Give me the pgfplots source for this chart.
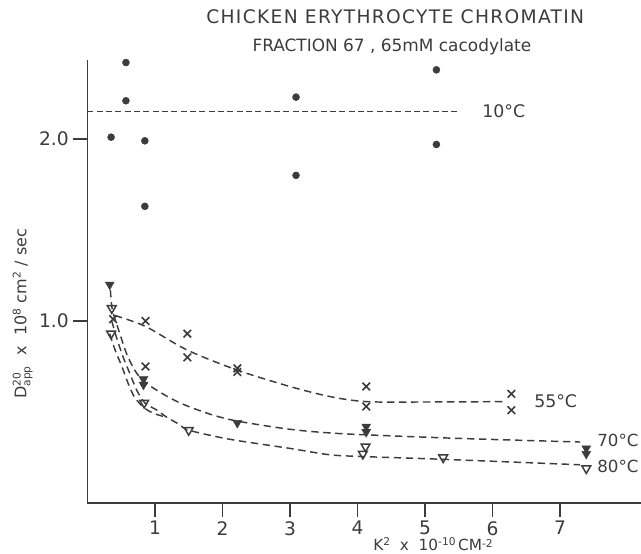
\documentclass[border=0pt]{standalone}
\usepackage{fontspec}
\setmainfont{DejaVu Sans}
\usepackage{amsmath}
\usepackage{pgfplots}
\pgfplotsset{compat=1.18}
\definecolor{ink}{HTML}{3c3c3c}
\begin{document}
\begin{tikzpicture}
\begin{axis}[
  scale only axis, width=415.1pt, height=332.25pt,
  xmin=0, xmax=8.2, ymin=0, ymax=2.434,
  axis lines=left, axis line style={-, ink, line width=1.1pt},
  xtick={1,...,7}, ytick={1,2}, yticklabels={1.0,2.0},
  tick align=outside, major tick length=10.5pt,
  tick style={ink, line width=1.1pt},
  ticklabel style={font=\fontsize{14}{16}\selectfont, text=ink},
  xticklabel style={inner sep=1pt, yshift=-2pt, text depth=0pt},
  /pgf/number format/assume math mode=true,
  clip=false,
  every axis plot/.append style={ink},
]
% 10 C
\addplot[only marks, mark=*, mark size=2.6pt, mark options={fill=ink, draw=ink}] coordinates {
 (0.35,2.01) (0.57,2.42) (0.57,2.21) (0.85,1.99) (0.85,1.63) (3.09,2.23) (3.09,1.80) (5.17,2.38) (5.17,1.97)};
\addplot[line width=1.1pt, dash pattern=on 4.5pt off 2.5pt] coordinates {(0,2.15) (5.47,2.15)};
% 55 C
\addplot[only marks, mark=x, mark size=4pt, mark options={line width=1.2pt}] coordinates {
 (0.38,1.01) (0.86,1.00) (0.86,0.75) (1.48,0.93) (1.48,0.80) (2.22,0.74) (2.22,0.72)
 (4.13,0.64) (4.13,0.53) (6.28,0.60) (6.28,0.51)};
\addplot[smooth, tension=0.5, line width=1.1pt, dash pattern=on 5.5pt off 3.5pt] coordinates {
 (0.41,1.03) (0.86,0.97) (1.48,0.84) (2.22,0.73) (3.0,0.64) (3.59,0.585) (4.13,0.557) (5.0,0.555) (6.2,0.557)};
% 70 C
\addplot[only marks, mark=triangle*, mark size=3.8pt, mark options={rotate=180, fill=ink, draw=ink}] coordinates {
 (0.33,1.20) (0.83,0.68) (0.83,0.65) (2.22,0.44) (4.13,0.42) (4.13,0.39) (7.39,0.30) (7.39,0.27)};
\addplot[smooth, tension=0.5, line width=1.1pt, dash pattern=on 5.5pt off 3.5pt] coordinates {
 (0.34,1.17) (0.37,1.06) (0.48,0.93) (0.58,0.82) (0.70,0.73) (0.83,0.67) (1.07,0.61) (1.37,0.55)
 (1.8,0.49) (2.22,0.45) (3.0,0.405) (3.59,0.385) (4.1,0.375) (5.5,0.355) (7.3,0.335)};
% 80 C
\addplot[only marks, mark=triangle, mark size=3.8pt, mark options={rotate=180, line width=1.1pt}] coordinates {
 (0.36,1.07) (0.35,0.93) (0.84,0.55) (1.50,0.40) (4.12,0.31) (4.08,0.27) (5.27,0.25) (7.39,0.19)};
\addplot[smooth, tension=0.5, line width=1.1pt, dash pattern=on 5.5pt off 3.5pt] coordinates {
 (0.36,1.00) (0.43,0.91) (0.53,0.80) (0.63,0.71) (0.73,0.62) (0.85,0.55) (1.03,0.51) (1.18,0.47)
 (1.37,0.43) (1.50,0.40) (2.11,0.35) (3.0,0.30) (3.59,0.265) (4.1,0.255) (5.27,0.24) (7.3,0.21)};
\addplot[smooth, tension=0.5, line width=1.1pt, dash pattern=on 5.5pt off 3.5pt] coordinates {
 (0.33,0.93) (0.41,0.84) (0.51,0.75) (0.60,0.66) (0.70,0.58) (0.85,0.52) (1.0,0.49) (1.18,0.47)};
% labels
\node[anchor=west, text=ink, font=\fontsize{13}{15}\selectfont] at (axis cs:5.78,2.15) {10°C};
\node[anchor=west, text=ink, font=\fontsize{13}{15}\selectfont] at (axis cs:6.55,0.557) {55°C};
\node[anchor=west, text=ink, font=\fontsize{12.5}{15}\selectfont, inner sep=1pt] at (axis cs:7.53,0.346) {70°C};
\node[anchor=west, text=ink, font=\fontsize{12.5}{15}\selectfont, inner sep=1pt] at (axis cs:7.53,0.20) {80°C};
\node[text=ink, font=\fontsize{14}{16}\selectfont] at (axis cs:4.56,2.67) {\addfontfeature{LetterSpace=7}CHICKEN ERYTHROCYTE CHROMATIN};
\node[text=ink, font=\fontsize{12.7}{15}\selectfont] at (axis cs:4.51,2.505) {FRACTION 67 , 65mM cacodylate};
\node[rotate=90, text=ink, font=\fontsize{12}{14}\selectfont] at (axis cs:-0.96,1.04) {D$^{\text{20}}_{\text{app}}$ \ x \ 10$^{\text{8}}$ cm$^{\text{2}}$ / sec};
\node[anchor=base, inner sep=0pt, text=ink, font=\fontsize{11.5}{13}\selectfont] at (axis cs:5.12,-0.263) {K\raisebox{0.6ex}{\fontsize{8}{9}\selectfont 2} \ x \ 10\raisebox{0.6ex}{\fontsize{8}{9}\selectfont -10}\,CM\raisebox{0.45ex}{\fontsize{8}{9}\selectfont -2}};
\end{axis}
\pgfresetboundingbox
\path (current axis.south west) ++(-65.6pt,-37.5pt) rectangle ++(480.75pt,414.75pt);
\end{tikzpicture}
\end{document}
